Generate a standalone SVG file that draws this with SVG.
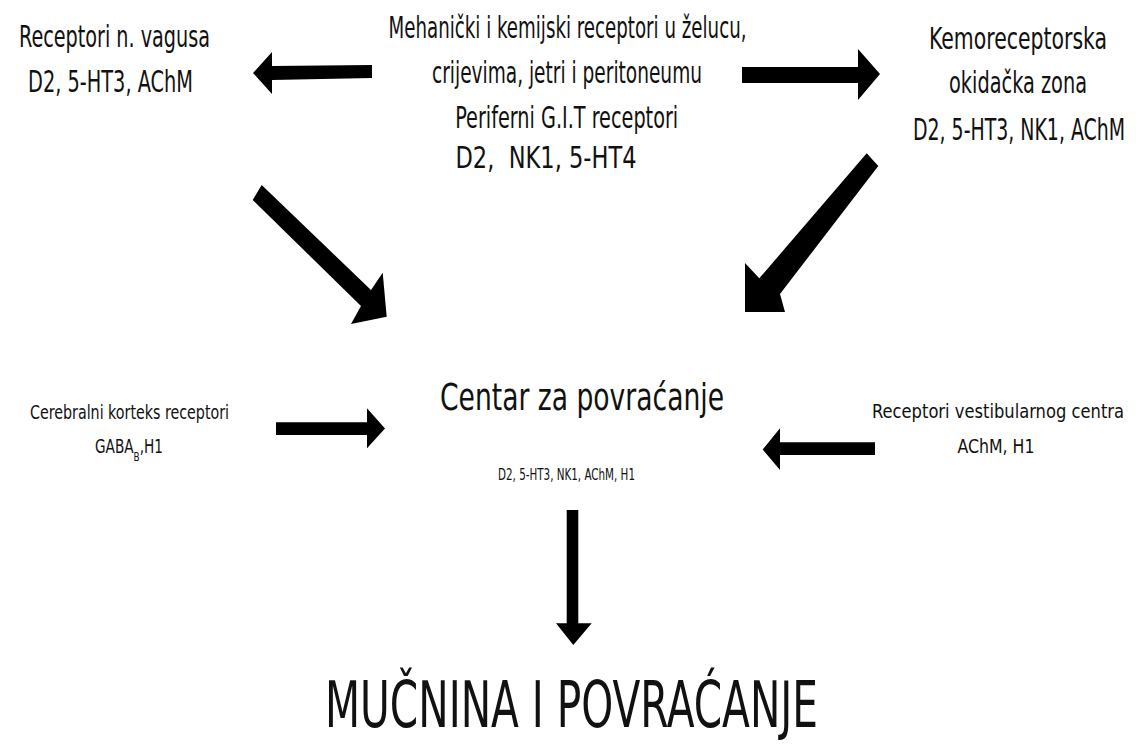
<svg xmlns="http://www.w3.org/2000/svg" width="1136" height="756" viewBox="0 0 1136 756">
<style>
  text { font-family: "DejaVu Sans Condensed", "Liberation Sans", sans-serif; fill: #111; text-anchor: middle; }
  .big { font-size: 30px; }
  .mid { font-size: 20px; }
  .center { font-size: 38px; }
  .small { font-size: 15px; }
  .title { font-size: 64px; }
  .arrow { fill: #000; stroke: none; }
</style>
<rect width="1136" height="756" fill="#fff"/>
<g id="connectors">
  <polygon class="arrow" points="372,65 272,66 272,52 253,73 272,94 272,80 372,78"/>
  <polygon class="arrow" points="742,67 858,67 858,49 880,74 858,100 858,83 742,83"/>
  <polygon class="arrow" points="261.7,185 371,290 382.7,272.7 386.7,316.7 351,324 361,306 252.7,200"/>
  <polygon class="arrow" points="866.7,153.3 878.3,166 780,294 785,312 745,312 745,263 759.3,278.3"/>
  <polygon class="arrow" points="276,422.3 367,422.3 367,408.3 385,428.5 367,448.3 367,435 276,435"/>
  <polygon class="arrow" points="875,442.3 780,442.3 780,428.3 762.7,449.5 780,470 780,455 875,455"/>
  <polygon class="arrow" points="566.7,510 578.3,510 578.3,623.3 591.7,623.3 573.3,645 556,623.3 566.7,623.3"/>
</g>
<g id="vagus">
  <text class="big" x="114.5" y="47" textLength="191" lengthAdjust="spacingAndGlyphs">Receptori n. vagusa</text>
  <text class="big" x="110.5" y="92" textLength="165" lengthAdjust="spacingAndGlyphs">D2, 5-HT3, AChM</text>
</g>
<g id="periferni">
  <text class="big" x="567.5" y="38" textLength="358" lengthAdjust="spacingAndGlyphs">Mehanički i kemijski receptori u želucu,</text>
  <text class="big" x="567" y="83" textLength="270" lengthAdjust="spacingAndGlyphs">crijevima, jetri i peritoneumu</text>
  <text class="big" x="566.7" y="128" textLength="223" lengthAdjust="spacingAndGlyphs">Periferni G.I.T receptori</text>
  <text class="big" x="546" y="168" textLength="181" lengthAdjust="spacingAndGlyphs">D2,&#160; NK1, 5-HT4</text>
</g>
<g id="kemoreceptorska">
  <text class="big" x="1018" y="49" textLength="178" lengthAdjust="spacingAndGlyphs">Kemoreceptorska</text>
  <text class="big" x="1018" y="93" textLength="138" lengthAdjust="spacingAndGlyphs">okidačka zona</text>
  <text class="big" x="1019" y="140" textLength="212" lengthAdjust="spacingAndGlyphs">D2, 5-HT3, NK1, AChM</text>
</g>
<g id="centar">
  <text class="center" x="582" y="410" textLength="284" lengthAdjust="spacingAndGlyphs">Centar za povraćanje</text>
  <text class="small" x="566.5" y="480" textLength="137" lengthAdjust="spacingAndGlyphs">D2, 5-HT3, NK1, AChM, H1</text>
</g>
<g id="cerebralni">
  <text class="mid" x="129.5" y="419" textLength="199" lengthAdjust="spacingAndGlyphs">Cerebralni korteks receptori</text>
  <text class="mid" x="129" y="453" textLength="68" lengthAdjust="spacingAndGlyphs">GABA<tspan dy="8" style="font-size:13px">B</tspan><tspan dy="-8">,H1</tspan></text>
</g>
<g id="vestibularni">
  <text class="mid" x="998" y="418" textLength="252" lengthAdjust="spacingAndGlyphs">Receptori vestibularnog centra</text>
  <text class="mid" x="996" y="453" textLength="77" lengthAdjust="spacingAndGlyphs">AChM, H1</text>
</g>
<g id="mucnina">
  <text class="title" x="571.5" y="727" textLength="493" lengthAdjust="spacingAndGlyphs">MUČNINA I POVRAĆANJE</text>
</g>
</svg>
